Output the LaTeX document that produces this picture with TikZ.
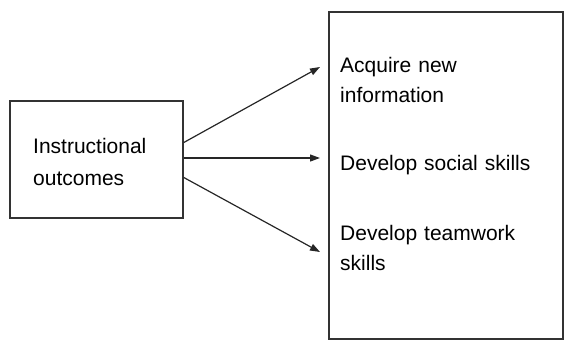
\documentclass[tikz,border=0pt]{standalone}
\usepackage{fontspec}
\setmainfont{Liberation Sans}
\usetikzlibrary{arrows.meta}

\tikzset{
  frame/.style={draw=black!80, line width=1.6pt, inner sep=0pt},
  txt/.style={inner sep=0pt, anchor=base west, text width=#1, align=left,
    font=\fontsize{21}{30}\selectfont},
  link/.style={draw=black!85, line width=1.2pt, -{Triangle[length=10pt,width=7pt]}}
}

\begin{document}
\begin{tikzpicture}[x=1pt, y=-1pt]
      \useasboundingbox (0,0) rectangle (564,340);

        \node[frame, minimum width=173pt, minimum height=117pt] (outbox) at (96.5,159.5) {};
        \node[frame, minimum width=234pt, minimum height=327pt] (skillbox) at (446,175.5) {};

        \node[txt=140pt, font=\fontsize{21}{32}\selectfont] (outtxt) at (33,153) {Instructional\\outcomes};

        \node[txt=200pt] (acq) at (340,72) {Acquire new\\information};
        \node[txt=200pt] (soc) at (340,170) {Develop social skills};
        \node[txt=200pt] (team) at (340,240) {Develop teamwork\\skills};

        \coordinate (acqend) at (320,67);
        \coordinate (socend) at (320,158);
        \coordinate (teamend) at (320,252);

        \draw[link] ([yshift=17pt]outbox.east) -- (acqend);
        \draw[link] ([yshift=1.5pt]outbox.east) -- (socend);
        \draw[link] ([yshift=-18pt]outbox.east) -- (teamend);
      \end{tikzpicture}
\end{document}
